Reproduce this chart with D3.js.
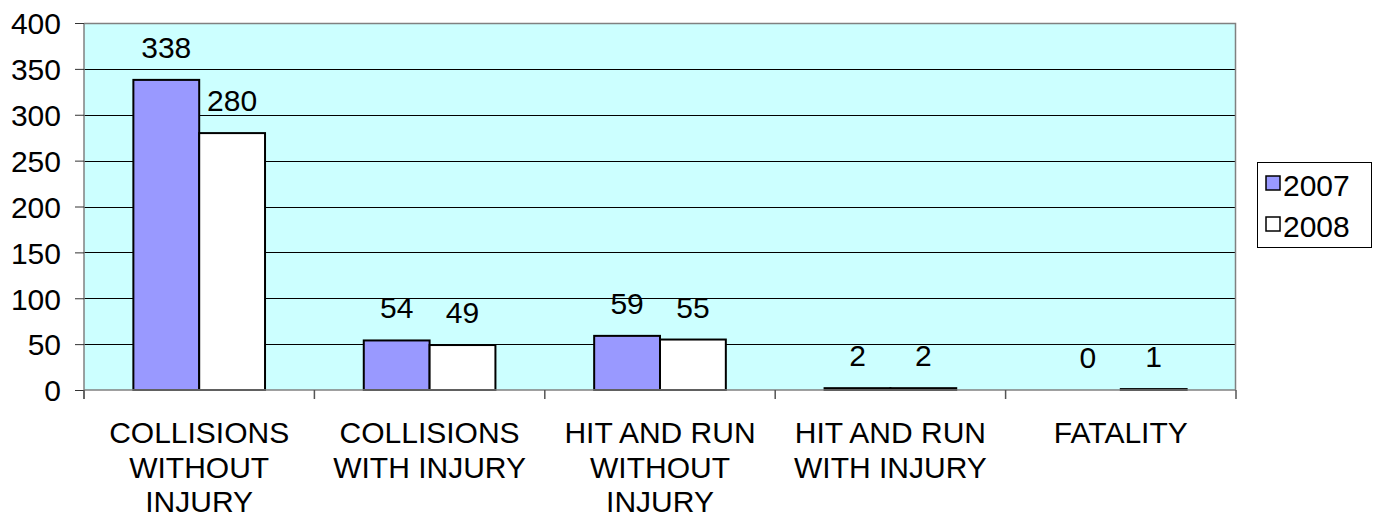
<!DOCTYPE html>
<html>
<head>
<meta charset="utf-8">
<script src="https://cdn.jsdelivr.net/npm/d3@7/dist/d3.min.js"></script>
<style>
  html, body { margin: 0; padding: 0; background: #ffffff; }
  svg { display: block; font-family: "Liberation Sans", Arial, sans-serif; }
</style>
</head>
<body>
<svg id="chart" width="1375" height="519"></svg>
<script>
// ---- data ----
const categories = [
  "COLLISIONS WITHOUT INJURY",
  "COLLISIONS WITH INJURY",
  "HIT AND RUN WITHOUT INJURY",
  "HIT AND RUN WITH INJURY",
  "FATALITY"
];
const seriesNames = ["2007", "2008"];
const values2007 = [338, 54, 59, 2, 0];
const values2008 = [280, 49, 55, 2, 1];
const yTicks = [0, 50, 100, 150, 200, 250, 300, 350, 400];

// ---- layout ----
const svg = d3.select("#chart");
const plot = { left: 84, right: 1236, top: 23, bottom: 390 };
const colors = { "2007": "#9999FF", "2008": "#FFFFFF" };
const fontSize = 30;

const x = d3.scaleBand().domain(categories).range([plot.left, plot.right]).paddingInner(0).paddingOuter(0);
const barW = x.bandwidth() / 3.5; // gap width 150%
const xInner = d3.scaleBand().domain(seriesNames)
  .range([x.bandwidth() / 2 - barW, x.bandwidth() / 2 + barW]);
const y = d3.scaleLinear().domain([0, 400]).range([plot.bottom, plot.top]);

// plot background
svg.append("rect")
  .attr("x", plot.left).attr("y", plot.top)
  .attr("width", plot.right - plot.left).attr("height", plot.bottom - plot.top)
  .attr("fill", "#CCFFFF");

// gridlines
svg.append("g").selectAll("line")
  .data(yTicks.filter(d => d > 0 && d < 400))
  .join("line")
  .attr("x1", plot.left).attr("x2", plot.right)
  .attr("y1", d => Math.round(y(d)) + 0.5).attr("y2", d => Math.round(y(d)) + 0.5)
  .attr("stroke", "#000").attr("stroke-width", 1);

// plot border (top / right)
svg.append("path")
  .attr("d", `M${plot.left},${plot.top + 0.5}H${plot.right - 0.5}V${plot.bottom}`)
  .attr("fill", "none").attr("stroke", "#808080").attr("stroke-width", 1.5);

// bars
const rows = categories.map((c, i) => ({ cat: c, vals: [
  { s: "2007", v: values2007[i] }, { s: "2008", v: values2008[i] }
]}));
const groups = svg.append("g").selectAll("g")
  .data(rows).join("g")
  .attr("transform", d => `translate(${x(d.cat)},0)`);
groups.selectAll("rect")
  .data(d => d.vals).join("rect")
  .attr("x", d => xInner(d.s))
  .attr("y", d => y(d.v))
  .attr("width", xInner.bandwidth())
  .attr("height", d => y(0) - y(d.v))
  .attr("fill", d => colors[d.s])
  .attr("stroke", "#000").attr("stroke-width", 2);
groups.selectAll("text")
  .data(d => d.vals).join("text")
  .attr("x", d => xInner(d.s) + xInner.bandwidth() / 2)
  .attr("y", d => y(d.v) - 22)
  .attr("text-anchor", "middle")
  .attr("font-size", fontSize)
  .attr("fill", "#000")
  .text(d => d.v);

// y axis
const yAxis = d3.axisLeft(y).tickValues(yTicks).tickSize(9).tickPadding(14);
const yg = svg.append("g").attr("transform", `translate(${plot.left},0)`).call(yAxis);
yg.select(".domain").attr("stroke", "#808080").attr("stroke-width", 1.5)
  .attr("d", `M0,${plot.top}V${plot.bottom + 9}`);
yg.selectAll(".tick line").attr("stroke", "#333");
yg.selectAll(".tick text").attr("font-size", fontSize).attr("font-family", "Liberation Sans, Arial, sans-serif")
  .attr("fill", "#000").attr("dy", "0.36em");

// x axis
const xg = svg.append("g").attr("transform", `translate(0,${plot.bottom})`);
xg.append("line").attr("x1", plot.left).attr("x2", plot.right)
  .attr("y1", 0).attr("y2", 0).attr("stroke", "#808080").attr("stroke-width", 1.5);
const bounds = categories.map(c => x(c)).concat([plot.right]);
xg.selectAll("line.tk").data(bounds).join("line").attr("class", "tk")
  .attr("x1", d => d).attr("x2", d => d).attr("y1", 0).attr("y2", 9)
  .attr("stroke", "#555").attr("stroke-width", 1.5);

// category labels with wrapping
const maxW = 225;
categories.forEach(c => {
  const t = xg.append("text")
    .attr("x", x(c) + x.bandwidth() / 2)
    .attr("text-anchor", "middle")
    .attr("font-size", fontSize).attr("fill", "#000");
  const words = c.split(" ");
  let lines = [], cur = [];
  const probe = xg.append("text").attr("font-size", fontSize).attr("visibility", "hidden");
  words.forEach(w => {
    const test = cur.concat([w]).join(" ");
    probe.text(test);
    if (cur.length && probe.node().getComputedTextLength() > maxW) {
      lines.push(cur.join(" ")); cur = [w];
    } else cur.push(w);
  });
  lines.push(cur.join(" "));
  probe.remove();
  lines.forEach((l, i) => {
    t.append("tspan").attr("x", x(c) + x.bandwidth() / 2)
      .attr("y", 53 + i * 34.5).text(l);
  });
});

// legend
const lg = svg.append("g");
lg.append("rect").attr("x", 1257.5).attr("y", 162.5).attr("width", 114).attr("height", 85)
  .attr("fill", "#fff").attr("stroke", "#000").attr("stroke-width", 1);
seriesNames.forEach((s, i) => {
  const by = 196 + i * 41;
  lg.append("rect").attr("x", 1266).attr("y", by - 20).attr("width", 14).attr("height", 14)
    .attr("fill", colors[s]).attr("stroke", "#000").attr("stroke-width", 1.5);
  lg.append("text").attr("x", 1283).attr("y", by).attr("font-size", fontSize).attr("fill", "#000").text(s);
});
</script>
</body>
</html>
